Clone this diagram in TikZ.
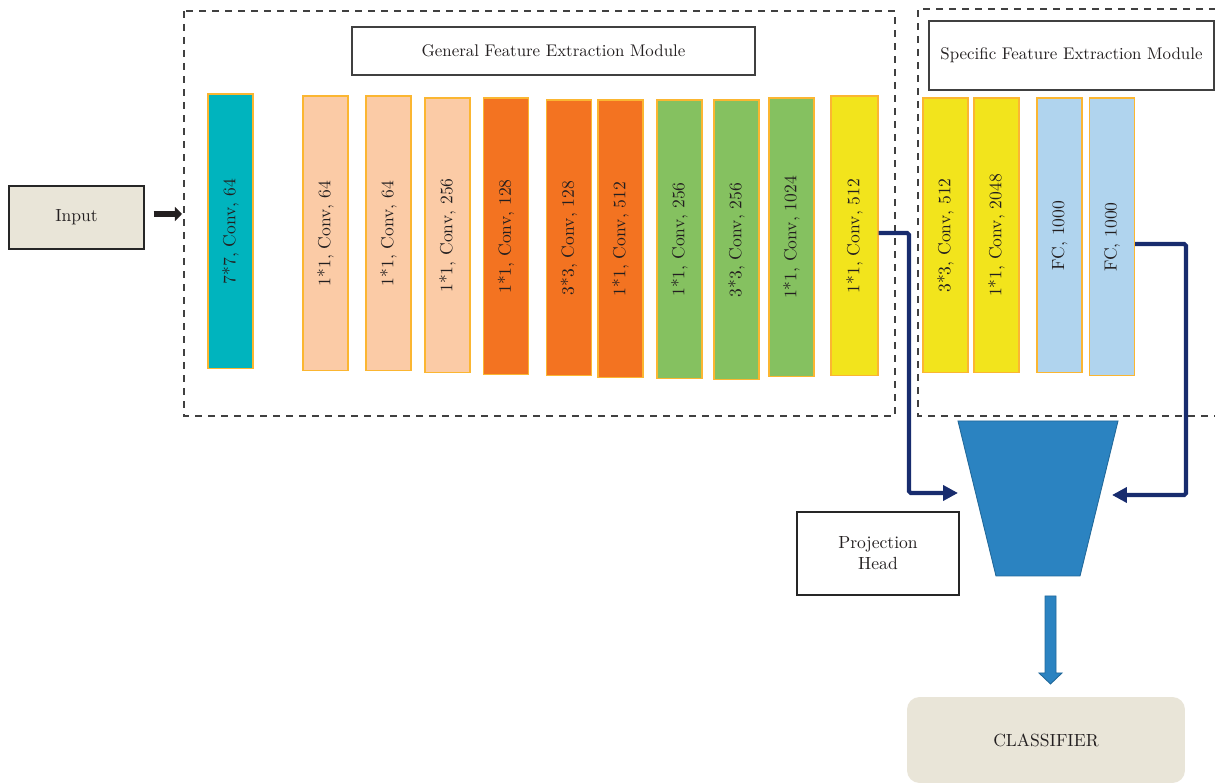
\documentclass[tikz,border=0pt]{standalone}
\usepackage{tikz}
\usetikzlibrary{arrows.meta}
\usepackage{xcolor}
\definecolor{cturq}{RGB}{0,180,190}
\definecolor{cpeche}{RGB}{251,203,166}
\definecolor{corange}{RGB}{243,115,33}
\definecolor{cvert}{RGB}{133,193,96}
\definecolor{cjaune}{RGB}{242,228,28}
\definecolor{cciel}{RGB}{176,212,238}
\definecolor{cbord}{RGB}{251,182,49}
\definecolor{cmarine}{RGB}{24,44,110}
\definecolor{cprojet}{RGB}{43,131,193}
\definecolor{cbeige}{RGB}{233,229,216}
\definecolor{ctexte}{RGB}{35,31,32}
\tikzset{
  couche/.style={draw=cbord, line width=0.6pt, rotate=90, minimum width=5.5cm,
    minimum height=0.9cm, inner sep=0pt, text=ctexte},
  cadre/.style={draw=black!75, line width=0.75pt, dash pattern=on 4pt off 3.4pt},
  titre/.style={draw=black!75, line width=0.8pt, text=ctexte, inner sep=0pt,
    font=\fontsize{9.6}{11.5}\selectfont},
  liaison/.style={draw=cmarine, line width=2.3pt, rounded corners=1pt,
    -{Triangle[length=8.5pt,width=8.5pt]}},
}

\begin{document}
\begin{tikzpicture}[x=0.02cm, y=-0.02cm, >=Stealth]
\useasboundingbox (0,0) rectangle (1215,783);
% cadres en pointillés
\draw[cadre] (184,11) rectangle (895,416);
\draw[cadre] (1216,9) -- (918,9) -- (918,416) -- (1216,416);
% titres des modules
\node[titre, minimum width=8.06cm, minimum height=0.96cm] (tgen) at (553.5,51) {General Feature Extraction Module};
\node[titre, minimum width=5.7cm, minimum height=1.38cm] (tspe) at (1071.5,55.5) {Specific Feature Extraction Module};
% entrée
\node[draw=black!85, line width=0.8pt, fill=cbeige, minimum width=2.7cm, minimum height=1.26cm, text=ctexte] (entree) at (76.5,217.5) {Input};
\coordinate (gen) at (182,214);
\draw[ctexte, line width=3.2pt, -{Triangle[length=4pt,width=8pt]}, shorten <=0.18cm] (entree.east |- gen) -- (gen);
% couches générales
\node[couche, fill=cturq] (c1) at (230.5,231.5) {7*7, Conv, 64};
\node[couche, fill=cpeche] (c2) at (325.5,233.5) {1*1, Conv, 64};
\node[couche, fill=cpeche] (c3) at (388.5,233.5) {1*1, Conv, 64};
\node[couche, fill=cpeche] (c4) at (447.5,235.5) {1*1, Conv, 256};
\node[couche, fill=corange, minimum width=5.54cm] (c5) at (506,236.5) {1*1, Conv, 128};
\node[couche, fill=corange, minimum width=5.52cm] (c6) at (569,238) {3*3, Conv, 128};
\node[couche, fill=corange, minimum width=5.56cm] (c7) at (620.5,239) {1*1, Conv, 512};
\node[couche, fill=cvert, minimum width=5.58cm] (c8) at (679.5,239.5) {1*1, Conv, 256};
\node[couche, fill=cvert, minimum width=5.6cm] (c9) at (736.5,240) {3*3, Conv, 256};
\node[couche, fill=cvert, minimum width=5.58cm] (c10) at (791.5,237.5) {1*1, Conv, 1024};
\node[couche, fill=cjaune, minimum width=5.6cm, minimum height=0.94cm] (c11) at (854.5,236) {1*1, Conv, 512};
% couches spécifiques
\node[couche, fill=cjaune] (c12) at (945.5,235.5) {3*3, Conv, 512};
\node[couche, fill=cjaune] (c13) at (996.5,235.5) {1*1, Conv, 2048};
\node[couche, fill=cciel] (c14) at (1059.5,235.5) {FC, 1000};
\node[couche, fill=cciel, minimum width=5.56cm] (c15) at (1112,237) {FC, 1000};
% tête de projection
\draw[draw=cprojet!80!black, fill=cprojet, line width=0.5pt] (958,421) -- (1118,421) -- (1080,576) -- (996,576) -- cycle;
\node[draw=black!85, line width=0.8pt, minimum width=3.24cm, minimum height=1.66cm, align=center, text=ctexte] (proj) at (878,553.5) {Projection\\Head};
% liaisons vers la tête
\coordinate (kg) at (909,493);
\coordinate (pg) at (958,493);
\coordinate (kd) at (1186,495);
\coordinate (pd) at (1112,495);
\draw[liaison] ([yshift=0.06cm]c11.south) -| (kg) -- (pg);
\draw[liaison] ([yshift=-0.14cm]c15.south) -| (kd) -- (pd);
% flèche vers le classifieur
\draw[draw=cprojet!80!black, fill=cprojet, line width=0.5pt] (1045,596) -- (1056,596) -- (1056,673) -- (1062,673) -- (1050.5,684) -- (1039,673) -- (1045,673) -- cycle;
\node[fill=cbeige, rounded corners=0.25cm, minimum width=5.56cm, minimum height=1.72cm, text=ctexte] (classif) at (1046,740) {CLASSIFIER};
\end{tikzpicture}
\end{document}
